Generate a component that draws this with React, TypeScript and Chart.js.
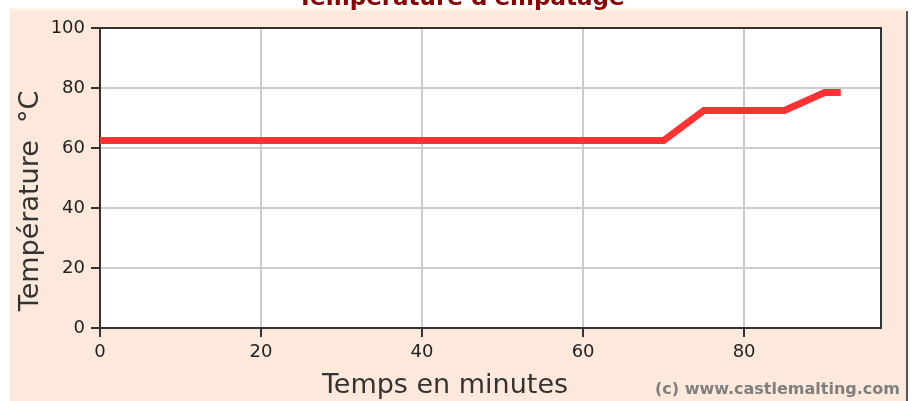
import React, { useEffect, useRef } from "react";
import { Chart, registerables } from "chart.js";

Chart.register(...registerables);

const chartTitle = "Température d'empâtage";
const xTitle = "Temps en minutes";
const yTitle = "Température  °C";
const watermark = "(c) www.castlemalting.com";

const timesMin = [0, 70, 75, 85, 90, 92];
const tempsC = [62.5, 62.5, 72.5, 72.5, 78.5, 78.5];

const xMin = 0;
const xMax = 97;
const xStep = 20;
const yMin = 0;
const yMax = 100;
const yStep = 20;

const decor = {
  id: "decor",
  beforeDraw(chart: any) {
    const { ctx, width, height, chartArea } = chart;
    ctx.save();
    ctx.fillStyle = "#ffffff";
    ctx.fillRect(0, 0, width, height);
    ctx.fillStyle = "#fce9db";
    ctx.fillRect(10, 8, 897, height - 8);
    ctx.fillStyle = "#fdf1e8";
    ctx.fillRect(10, 8, 897, 3);
    ctx.strokeStyle = "#555555";
    ctx.lineWidth = 2;
    ctx.beginPath();
    ctx.moveTo(907, 11);
    ctx.lineTo(907, height);
    ctx.stroke();
    ctx.fillStyle = "#ffffff";
    ctx.fillRect(
      chartArea.left,
      chartArea.top,
      chartArea.right - chartArea.left,
      chartArea.bottom - chartArea.top
    );
    ctx.restore();
  },
  beforeDatasetsDraw(chart: any) {
    const { ctx, chartArea } = chart;
    ctx.save();
    ctx.strokeStyle = "#333333";
    ctx.lineWidth = 2;
    ctx.strokeRect(
      chartArea.left,
      chartArea.top,
      chartArea.right - chartArea.left,
      chartArea.bottom - chartArea.top
    );
    ctx.restore();
  },
  afterDraw(chart: any) {
    const { ctx } = chart;
    ctx.save();
    ctx.fillStyle = "#8b0000";
    ctx.font = "bold 23px 'DejaVu Sans'";
    ctx.textAlign = "center";
    ctx.textBaseline = "alphabetic";
    ctx.fillText(chartTitle, 461, 5);
    ctx.fillStyle = "#333333";
    ctx.font = "27px 'DejaVu Sans'";
    ctx.fillText(xTitle, 445, 393);
    ctx.save();
    ctx.translate(38, 201);
    ctx.rotate(-Math.PI / 2);
    ctx.fillText(yTitle, 0, 0);
    ctx.restore();
    ctx.fillStyle = "#7f7f7f";
    ctx.font = "bold 16px 'DejaVu Sans'";
    ctx.textAlign = "right";
    ctx.fillText(watermark, 900, 394);
    ctx.restore();
  },
};

export default function App() {
  const ref = useRef<HTMLCanvasElement | null>(null);

  useEffect(() => {
    if (!ref.current) return;
    const points = timesMin.map((t, i) => ({ x: t, y: tempsC[i] }));
    const chart = new Chart(ref.current, {
      type: "line",
      data: {
        datasets: [
          {
            data: points,
            borderColor: "#ff3333",
            borderWidth: 7,
            borderJoinStyle: "miter",
            borderCapStyle: "butt",
            pointRadius: 0,
            tension: 0,
            fill: false,
          },
        ],
      },
      options: {
        responsive: false,
        animation: false,
        devicePixelRatio: 1,
        layout: { padding: { left: 0, top: 28, right: 34, bottom: 0 } },
        plugins: {
          legend: { display: false },
          tooltip: { enabled: false },
          title: { display: false },
        },
        scales: {
          x: {
            type: "linear",
            min: xMin,
            max: xMax,
            afterBuildTicks: (scale: any) => {
              scale.ticks = scale.ticks.filter((t: any) => t.value % xStep === 0);
            },
            afterFit: (scale: any) => {
              scale.height = 73;
            },
            ticks: {
              stepSize: xStep,
              color: "#222222",
              font: { family: "'DejaVu Sans'", size: 18 },
              padding: 5,
              maxRotation: 0,
            },
            grid: {
              color: "#cccccc",
              lineWidth: 2,
              tickColor: "#333333",
              tickLength: 9,
              tickWidth: 2,
            },
            border: { display: false },
          },
          y: {
            min: yMin,
            max: yMax,
            afterFit: (scale: any) => {
              scale.width = 100;
            },
            ticks: {
              stepSize: yStep,
              color: "#222222",
              font: { family: "'DejaVu Sans'", size: 18 },
              padding: 6,
            },
            grid: {
              color: "#cccccc",
              lineWidth: 2,
              tickColor: "#333333",
              tickLength: 9,
              tickWidth: 2,
            },
            border: { display: false },
          },
        },
      },
      plugins: [decor],
    });
    return () => chart.destroy();
  }, []);

  return (
    <div style={{ position: "absolute", left: 0, top: 0, width: 915, height: 401 }}>
      <canvas ref={ref} width={915} height={401} />
    </div>
  );
}
